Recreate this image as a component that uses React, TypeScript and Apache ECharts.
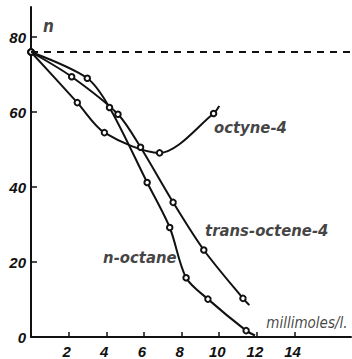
import React, { useEffect, useRef } from "react";
import * as echarts from "echarts";

// Measured points [millimoles/l., n] for each hydrocarbon
const nOctane: number[][] = [
  [0, 76], [2.99, 69], [4.17, 61.2], [6.17, 41.2], [7.37, 29.2],
  [8.24, 15.8], [9.4, 10.1], [11.43, 1.7],
];
const transOctene4: number[][] = [
  [0, 76], [2.16, 69.4], [4.62, 59.4], [5.82, 50.6], [7.55, 35.9],
  [9.18, 23.2], [11.26, 10.3],
];
const octyne4: number[][] = [
  [0, 76], [2.46, 62.5], [3.9, 54.5], [6.83, 49.1], [9.7, 59.6],
];

// Where each hand-drawn curve runs on past its last point
const nOctaneEnd = [11.9, 0.4];
const transOctene4End = [11.6, 8.5];
const octyne4End = [10.0, 61.6];

// Level of the pure solvent (dashed line)
const baseLevel = 76;

const xTicks = [2, 4, 6, 8, 10, 12, 14];
const yTicks = [0, 20, 40, 60, 80];

const curveNames = ["n-octane", "trans-octene-4", "octyne-4"];

const INK = "#111111";
const DIGIT_FONT = "'Liberation Sans', Arial, sans-serif";
const TEXT_FONT = "'DejaVu Sans Condensed', 'DejaVu Sans', sans-serif";

// Anchors (data coordinates) for the curve names and axis captions
const captions = [
  { name: curveNames[2], value: [9.72, 56], size: 16.5, weight: "bold" },
  { name: curveNames[1], value: [9.25, 28.5], size: 16.5, weight: "bold" },
  { name: curveNames[0], value: [3.83, 21.1], size: 16.5, weight: "bold" },
  { name: "millimoles/l.", value: [12.5, 3.7], size: 15, weight: "normal" },
  { name: "n", value: [0.64, 83], size: 17, weight: "bold" },
];

function curve(name: string, pts: number[][], end: number[], withBase = false) {
  const s: any = {
    name,
    type: "line",
    smooth: 0.3,
    symbol: "emptyCircle",
    symbolSize: 5.5,
    showSymbol: true,
    lineStyle: { color: INK, width: 2 },
    itemStyle: { color: INK, borderWidth: 1.4 },
    data: [
      ...pts.map((p) => ({ value: p })),
      { value: end, symbol: "none" },
    ],
    z: 3,
  };
  if (withBase) {
    s.markLine = {
      silent: true,
      symbol: "none",
      label: { show: false },
      lineStyle: { color: INK, width: 2, type: [7, 6] },
      data: [{ yAxis: baseLevel }],
    };
  }
  return s;
}

export default function App() {
  const ref = useRef<HTMLDivElement>(null);

  useEffect(() => {
    if (!ref.current) return;
    const chart = echarts.init(ref.current, undefined, { renderer: "svg" });
    chart.setOption({
      animation: false,
      backgroundColor: "#ffffff",
      grid: { left: 31, right: 1, top: 7, bottom: 22, containLabel: false },
      xAxis: {
        type: "value",
        min: 0,
        max: 17,
        axisLine: { show: true, onZero: false, lineStyle: { color: INK, width: 2 } },
        axisTick: {
          show: true,
          inside: true,
          length: 5,
          customValues: xTicks,
          lineStyle: { color: INK, width: 1.5 },
        },
        axisLabel: {
          customValues: xTicks,
          margin: 7,
          color: INK,
          fontFamily: DIGIT_FONT,
          fontStyle: "italic",
          fontWeight: "bold",
          fontSize: 15,
          padding: [0, 4, 0, 0],
        },
        splitLine: { show: false },
      },
      yAxis: {
        type: "value",
        min: 0,
        max: 88,
        axisLine: { show: true, onZero: false, lineStyle: { color: INK, width: 2 } },
        axisTick: {
          show: true,
          inside: true,
          length: 6,
          customValues: yTicks.filter((v) => v > 0),
          lineStyle: { color: INK, width: 1.5 },
        },
        axisLabel: {
          customValues: yTicks,
          margin: 5,
          color: INK,
          fontFamily: DIGIT_FONT,
          fontStyle: "italic",
          fontWeight: "bold",
          fontSize: 15,
          padding: [0, 0, 8, 0],
        },
        splitLine: { show: false },
      },
      series: [
        curve(curveNames[2], octyne4, octyne4End, true),
        curve(curveNames[1], transOctene4, transOctene4End),
        curve(curveNames[0], nOctane, nOctaneEnd),
        {
          type: "scatter",
          silent: true,
          symbolSize: 0,
          z: 5,
          data: captions.map((c) => ({
            name: c.name,
            value: c.value,
            label: { fontSize: c.size, fontWeight: c.weight },
          })),
          label: {
            show: true,
            position: "right",
            distance: 0,
            formatter: "{b}",
            color: INK,
            fontFamily: TEXT_FONT,
            fontStyle: "italic",
          },
        },
      ],
    });
    return () => chart.dispose();
  }, []);

  return (
    <div
      ref={ref}
      style={{ position: "fixed", left: 0, top: 0, width: 352, height: 359 }}
    />
  );
}
